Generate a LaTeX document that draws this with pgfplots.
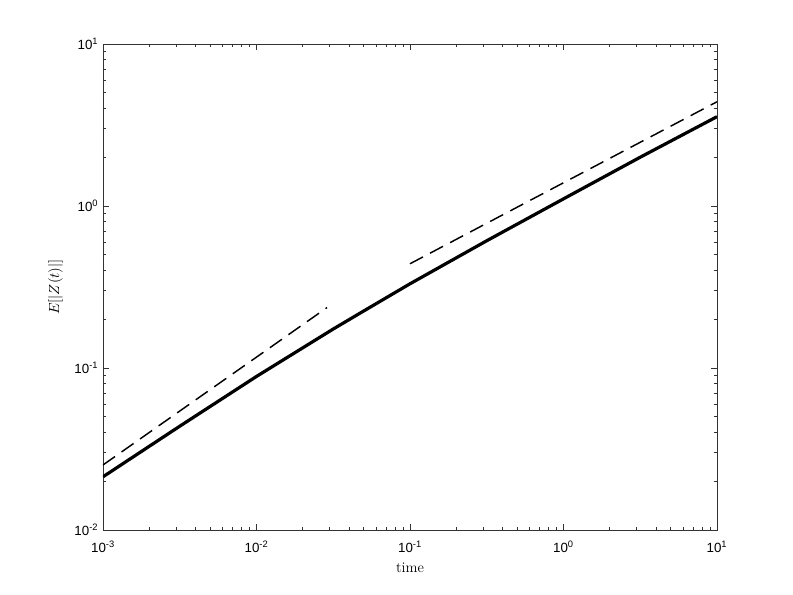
\documentclass[border=0pt]{standalone}
\usepackage{pgfplots}
\pgfplotsset{compat=1.18}
\usepackage{fontspec}
\newfontfamily\ticksf{Liberation Sans}
\begin{document}
\begin{tikzpicture}
\useasboundingbox (-77.25pt,-48.75pt) rectangle (517.5pt,397.5pt);
\begin{axis}[
  at={(0,0)}, anchor=south west,
  scale only axis, width=460.5pt, height=364.5pt,
  xmode=log, ymode=log,
  xmin=1e-3, xmax=10, ymin=1e-2, ymax=10,
  xtick={1e-3,1e-2,1e-1,1,10},
  xticklabels={10\textsuperscript{-3},10\textsuperscript{-2},10\textsuperscript{-1},10\textsuperscript{0},10\textsuperscript{1}},
  ytick={1e-2,1e-1,1,10},
  yticklabels={10\textsuperscript{-2},10\textsuperscript{-1},10\textsuperscript{0},10\textsuperscript{1}},
  tick label style={font=\ticksf\fontsize{10}{12}\selectfont},
  xticklabel style={yshift=-5pt},
  tick align=inside, ticks=both,
  major tick length=4.5pt, minor tick length=2.6pt,
  every tick/.style={color=black!80, line width=0.5pt},
  axis line style={color=black!80, line width=0.6pt},
  xtick pos=both, ytick pos=both,
  xlabel={time}, ylabel={$E[|Z(t)|]$},
  label style={font=\fontsize{11}{13}\selectfont},
  xlabel style={yshift=-1pt},
  ylabel style={yshift=2pt},
  clip=true,
]
\addplot[black, line width=2.4pt] coordinates {
(0.001,0.0213) (0.00316,0.0437) (0.01,0.0887) (0.0316,0.174) (0.05,0.225) (0.1,0.331) (0.316,0.610) (1,1.107) (3.16,2.00) (10,3.56)
};
\addplot[black, line width=1.1pt, dash pattern=on 11pt off 6pt] coordinates {
(0.001,0.0252) (0.0288,0.236)
};
\addplot[black, line width=1.1pt, dash pattern=on 11pt off 6pt] coordinates {
(0.1,0.44) (10,4.4)
};
\end{axis}
\end{tikzpicture}
\end{document}
